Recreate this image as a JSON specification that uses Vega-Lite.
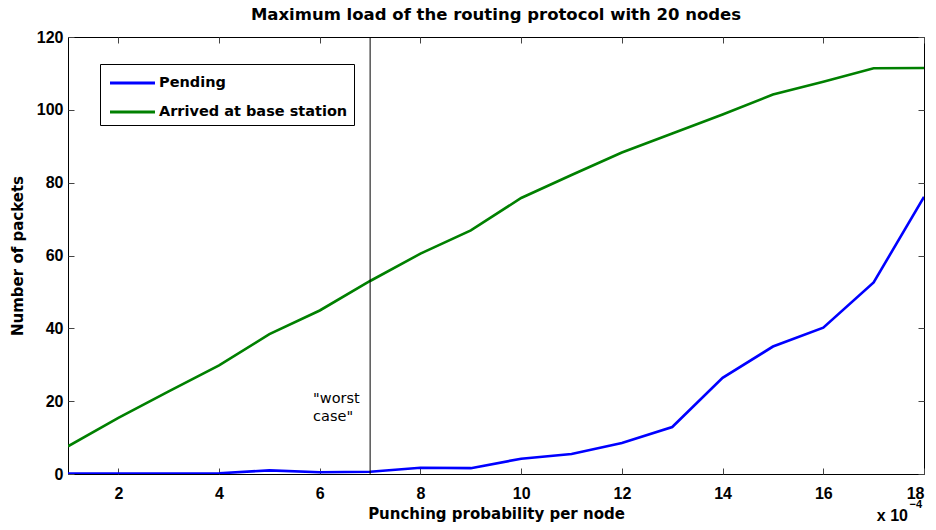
{
  "$schema": "https://vega.github.io/schema/vega-lite/v6.json",
  "width": 856,
  "height": 437,
  "autosize": {"type": "none"},
  "padding": {"left": 68, "top": 37, "right": 12, "bottom": 56},
  "background": "white",
  "config": {
    "font": "Liberation Sans",
    "view": {"stroke": "black", "strokeWidth": 1}
  },
  "title": {
    "text": "Maximum load of the routing protocol with 20 nodes",
    "fontSize": 16.5,
    "fontWeight": "bold",
    "font": "DejaVu Sans",
    "color": "black",
    "offset": 6,
    "anchor": "middle"
  },
  "datasets": {
    "lines": [
      {"p": 1, "series": "Pending", "packets": 0.1},
      {"p": 2, "series": "Pending", "packets": 0.1},
      {"p": 3, "series": "Pending", "packets": 0.1},
      {"p": 4, "series": "Pending", "packets": 0.2},
      {"p": 5, "series": "Pending", "packets": 1.0},
      {"p": 6, "series": "Pending", "packets": 0.5},
      {"p": 7, "series": "Pending", "packets": 0.6},
      {"p": 8, "series": "Pending", "packets": 1.7},
      {"p": 9, "series": "Pending", "packets": 1.6},
      {"p": 10, "series": "Pending", "packets": 4.2},
      {"p": 11, "series": "Pending", "packets": 5.5},
      {"p": 12, "series": "Pending", "packets": 8.5},
      {"p": 13, "series": "Pending", "packets": 12.9},
      {"p": 14, "series": "Pending", "packets": 26.4},
      {"p": 15, "series": "Pending", "packets": 35.0},
      {"p": 16, "series": "Pending", "packets": 40.2},
      {"p": 17, "series": "Pending", "packets": 52.6},
      {"p": 18, "series": "Pending", "packets": 76.1},
      {"p": 1, "series": "Arrived at base station", "packets": 7.6},
      {"p": 2, "series": "Arrived at base station", "packets": 15.4},
      {"p": 3, "series": "Arrived at base station", "packets": 22.7},
      {"p": 4, "series": "Arrived at base station", "packets": 29.8},
      {"p": 5, "series": "Arrived at base station", "packets": 38.4},
      {"p": 6, "series": "Arrived at base station", "packets": 44.9},
      {"p": 7, "series": "Arrived at base station", "packets": 53.0},
      {"p": 8, "series": "Arrived at base station", "packets": 60.5},
      {"p": 9, "series": "Arrived at base station", "packets": 66.9},
      {"p": 10, "series": "Arrived at base station", "packets": 75.8},
      {"p": 11, "series": "Arrived at base station", "packets": 82.1},
      {"p": 12, "series": "Arrived at base station", "packets": 88.3},
      {"p": 13, "series": "Arrived at base station", "packets": 93.5},
      {"p": 14, "series": "Arrived at base station", "packets": 98.7},
      {"p": 15, "series": "Arrived at base station", "packets": 104.2},
      {"p": 16, "series": "Arrived at base station", "packets": 107.7},
      {"p": 17, "series": "Arrived at base station", "packets": 111.4},
      {"p": 18, "series": "Arrived at base station", "packets": 111.5}
    ],
    "marker": [{"p": 7}],
    "note": [{"p": 7, "packets": 20.5}],
    "unit": [{"p": 18, "packets": 0}]
  },
  "layer": [
    {
      "data": {"name": "lines"},
      "mark": {"type": "line", "strokeWidth": 2.6, "clip": true},
      "encoding": {
        "x": {
          "field": "p", "type": "quantitative",
          "scale": {"domain": [1, 18], "nice": false, "zero": false},
          "axis": {
            "orient": "bottom",
            "values": [2, 4, 6, 8, 10, 12, 14, 16, 18],
            "title": "Punching probability per node",
            "titleFont": "DejaVu Sans", "titleFontSize": 15, "titleFontWeight": "bold", "titleColor": "black",
            "titlePadding": 5,
            "labelFont": "Liberation Sans", "labelFontSize": 16, "labelFontWeight": "bold", "labelColor": "black",
            "labelPadding": 17,
            "tickSize": -6, "tickColor": "#444", "domain": false, "grid": false
          }
        },
        "y": {
          "field": "packets", "type": "quantitative",
          "scale": {"domain": [0, 120], "nice": false},
          "axis": {
            "orient": "left",
            "values": [0, 20, 40, 60, 80, 100, 120],
            "title": "Number of packets",
            "titleFont": "DejaVu Sans", "titleFontSize": 15, "titleFontWeight": "bold", "titleColor": "black",
            "titlePadding": 11,
            "labelFont": "Liberation Sans", "labelFontSize": 16, "labelFontWeight": "bold", "labelColor": "black",
            "labelPadding": 11,
            "tickSize": -6, "tickColor": "#444", "domain": false, "grid": false
          }
        },
        "color": {
          "field": "series", "type": "nominal",
          "scale": {"domain": ["Pending", "Arrived at base station"], "range": ["#0000ff", "#008000"]},
          "legend": {
            "title": null,
            "orient": "none",
            "legendX": 32,
            "legendY": 27,
            "direction": "vertical",
            "strokeColor": "black",
            "fillColor": "white",
            "padding": 6,
            "symbolType": "M-0.8,0H3.2",
            "symbolStrokeWidth": 3,
            "symbolSize": 506,
            "labelFont": "DejaVu Sans",
            "labelFontSize": 14.5,
            "labelFontWeight": "bold",
            "labelColor": "black",
            "labelOffset": 27,
            "labelLimit": 400,
            "rowPadding": 9
          }
        }
      }
    },
    {
      "data": {"name": "marker"},
      "mark": {"type": "rule", "color": "black", "strokeWidth": 1},
      "encoding": {
        "x": {
          "field": "p", "type": "quantitative",
          "axis": {
            "orient": "top", "values": [2, 4, 6, 8, 10, 12, 14, 16, 18],
            "labels": false, "title": null, "tickSize": -6, "tickColor": "#444", "domain": false, "grid": false
          }
        },
        "y": {
          "datum": 0, "type": "quantitative",
          "axis": {
            "orient": "right", "values": [0, 20, 40, 60, 80, 100, 120],
            "labels": false, "title": null, "tickSize": -6, "tickColor": "#444", "domain": false, "grid": false
          }
        },
        "y2": {"datum": 120}
      }
    },
    {
      "data": {"name": "note"},
      "mark": {"type": "text", "align": "left", "baseline": "middle", "fontSize": 14.5, "font": "DejaVu Sans", "color": "black", "dx": -57, "lineHeight": 18},
      "encoding": {
        "x": {"field": "p", "type": "quantitative", "axis": null},
        "y": {"field": "packets", "type": "quantitative", "axis": null},
        "text": {"value": ["\"worst", "case\""]}
      }
    },
    {
      "data": {"name": "unit"},
      "mark": {"type": "text", "align": "right", "baseline": "middle", "fontSize": 16, "fontWeight": "bold", "font": "Liberation Sans", "color": "black", "dx": -16, "dy": 42},
      "encoding": {
        "x": {"field": "p", "type": "quantitative", "axis": null},
        "y": {"field": "packets", "type": "quantitative", "axis": null},
        "text": {"value": "x 10"}
      }
    },
    {
      "data": {"name": "unit"},
      "mark": {"type": "text", "align": "right", "baseline": "middle", "fontSize": 11, "fontWeight": "bold", "font": "Liberation Sans", "color": "black", "dx": -2, "dy": 31},
      "encoding": {
        "x": {"field": "p", "type": "quantitative", "axis": null},
        "y": {"field": "packets", "type": "quantitative", "axis": null},
        "text": {"value": "−4"}
      }
    }
  ],
  "resolve": {"axis": {"x": "independent", "y": "independent"}}
}
